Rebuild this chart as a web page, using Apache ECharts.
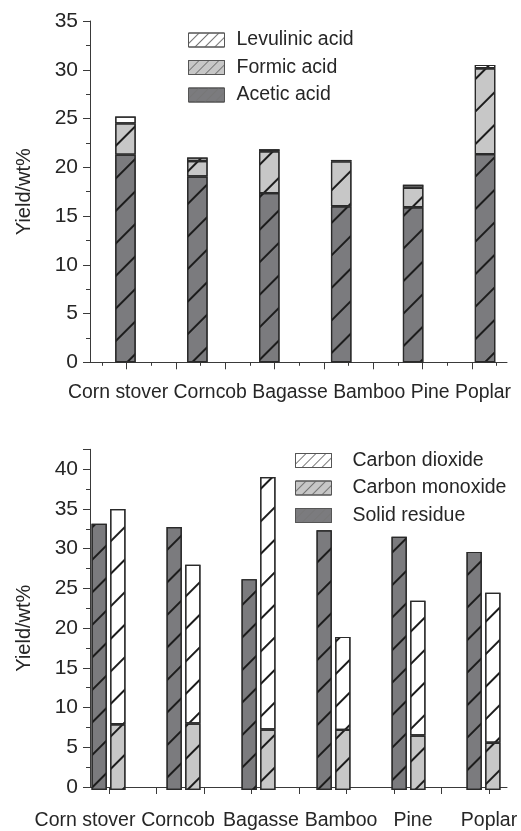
<!DOCTYPE html>
<html>
<head>
<meta charset="utf-8">
<script src="https://cdn.jsdelivr.net/npm/echarts@6/dist/echarts.min.js"></script>
<style>
html,body{margin:0;padding:0;background:#fff;}
#chart{width:521px;height:831px;}
</style>
</head>
<body>
<div id="chart"></div>
<script>
// ---- data ----
const categories = ['Corn stover', 'Corncob', 'Bagasse', 'Bamboo', 'Pine', 'Poplar'];
// top panel (wt%)
const aceticAcid = [21.3, 19.05, 17.35, 16.0, 15.9, 21.35];
const formicAcid = [3.2, 1.6, 4.3, 4.6, 2.0, 8.8];
const levulinicAcid = [0.7, 0.35, 0.2, 0.15, 0.3, 0.35];
// bottom panel (wt%)
const solidResidue = [33.2, 32.8, 26.3, 32.4, 31.6, 29.7];
const carbonMonoxide = [8.2, 8.3, 7.55, 7.5, 6.8, 5.9];
const carbonDioxide = [26.85, 19.8, 31.5, 11.6, 16.8, 18.7];
// axis ticks (x ticks in category-index units)
const topYTicks = { min: 0, max: 35, step: 5 };
const bottomYTicks = { min: 0, max: 42.5, step: 5 };
const topMajorXTicks = [0, 2/3, 4/3, 2, 8/3, 10/3, 4, 14/3];
const topMinorXTicks = [-1/3, 1/3, 1, 5/3, 7/3, 3, 11/3, 13/3, 5];
const bottomXTicks = [0, 0.625, 1.25, 1.875, 2.5, 3.125, 3.75, 4.375, 5];
const bottomLabelValues = [0, 1, 2, 3, 4, 5];

// ---- styles ----
const FONT = 'Liberation Sans, Arial, sans-serif';
const TXT = '#262626';
const AX = '#3a3a3a';
const DARK = '#7b7b7e';
const LIGHT = '#c7c7c7';
const WHITE = '#ffffff';
const hatch = { symbol: 'rect', symbolSize: 1, dashArrayX: [1, 0], dashArrayY: [1.5, 21], rotation: -Math.PI / 4, color: '#1c1c1c' };
const legendHatch = { symbol: 'rect', symbolSize: 1, dashArrayX: [1, 0], dashArrayY: [1, 5.5], rotation: -Math.PI / 4, color: '#777' };
// per-label nudges for the bottom axis labels (padding: [top, right, bottom, left])
const bottomLabelPad = [[0, 48, 0, 0], [0, 14, 0, 0], [0, 0, 0, 0], [0, 0, 0, 8], [0, 0, 0, 0], [0, 0, 0, 0]];

const TOP = { top: 21, height: 341.3 };
const BOT = { top: 449.3, height: 340.7 };

const chart = echarts.init(document.getElementById('chart'), null, { renderer: 'canvas' });

function barSeries(name, data, color, xi, yi, stack, width) {
  return {
    type: 'bar', name, data, xAxisIndex: xi, yAxisIndex: yi, stack,
    barWidth: width, barGap: '22%',
    itemStyle: { color, borderColor: '#2a2a2a', borderWidth: 1.2, decal: hatch },
    emphasis: { disabled: true }, animation: false
  };
}

const yAxisVisible = (gi, t, gapFix) => ({
  gridIndex: gi, type: 'value', min: t.min, max: t.max, interval: t.step,
  axisLine: { show: true, onZero: false, lineStyle: { color: AX, width: 1 } },
  axisTick: { show: true, length: 7, lineStyle: { color: AX } },
  minorTick: { show: true, splitNumber: 2, length: 4, lineStyle: { color: AX } },
  splitLine: { show: false },
  axisLabel: { fontSize: 21, color: TXT, fontFamily: FONT, margin: 12, showMaxLabel: t.max % t.step === 0 },
  name: 'Yield/wt%', nameLocation: 'middle', nameGap: 56,
  nameTextStyle: { fontSize: 20, color: TXT, fontFamily: FONT, padding: gapFix }
});
const yAxisHidden = (gi, t) => ({ gridIndex: gi, type: 'value', min: t.min, max: t.max, show: false, splitLine: { show: false } });

const richLabels = {};
bottomLabelPad.forEach((p, i) => { richLabels['c' + i] = { fontSize: 19.5, color: TXT, fontFamily: FONT, padding: p }; });

const option = {
  backgroundColor: '#fff',
  animation: false,
  textStyle: { fontFamily: FONT },
  grid: [
    { left: 90, width: 417, ...TOP },
    { left: 89.5, width: 444, ...TOP },
    { left: 90, width: 417, ...BOT },
    { left: 71, width: 456, ...BOT }
  ],
  xAxis: [
    { gridIndex: 0, type: 'value', min: -36.5 / 74, max: 380.5 / 74,
      axisLine: { show: true, onZero: false, lineStyle: { color: AX } },
      axisTick: { show: true, length: 7, customValues: topMajorXTicks, lineStyle: { color: AX } },
      axisLabel: { show: false }, splitLine: { show: false },
      name: categories.join(' '), nameLocation: 'middle', nameGap: 21,
      nameTextStyle: { fontSize: 19.4, color: TXT, fontFamily: FONT, padding: [0, 18, 0, 0] } },
    { gridIndex: 0, type: 'value', min: -36.5 / 74, max: 380.5 / 74, position: 'bottom',
      axisLine: { show: false, onZero: false },
      axisTick: { show: true, length: 3.5, customValues: topMinorXTicks, lineStyle: { color: AX } },
      axisLabel: { show: false }, splitLine: { show: false } },
    { gridIndex: 1, type: 'category', data: categories, show: false },
    { gridIndex: 2, type: 'value', min: -19 / 76, max: 398 / 76,
      axisLine: { show: true, onZero: false, lineStyle: { color: AX } },
      axisTick: { show: true, length: 7, customValues: bottomXTicks, lineStyle: { color: AX } },
      axisLabel: {
        show: true, customValues: bottomLabelValues, margin: 24, fontSize: 19.5, color: TXT, fontFamily: FONT,
        formatter: v => {
          const i = Math.round(v);
          return '{c' + i + '|' + categories[i] + '}';
        },
        rich: richLabels
      },
      splitLine: { show: false } },
    { gridIndex: 3, type: 'category', data: categories, show: false }
  ],
  yAxis: [
    yAxisVisible(0, topYTicks, [0, 0, 0, 0]),
    yAxisHidden(1, topYTicks),
    yAxisVisible(2, bottomYTicks, [0, 20, 0, 0]),
    yAxisHidden(3, bottomYTicks)
  ],
  legend: [
    { orient: 'vertical', left: 183, top: 25, itemWidth: 36, itemHeight: 14, itemGap: 7.5,
      selectedMode: false, icon: 'rect',
      itemStyle: { borderColor: '#555', borderWidth: 1 },
      textStyle: { fontSize: 19.5, color: TXT, fontFamily: FONT, padding: [0, 0, 0, 7] },
      data: [
        { name: 'Levulinic acid', itemStyle: { decal: legendHatch } },
        { name: 'Formic acid', itemStyle: { decal: legendHatch } },
        { name: 'Acetic acid', itemStyle: { decal: legendHatch } }
      ] },
    { orient: 'vertical', left: 290, top: 445.5, itemWidth: 36, itemHeight: 14, itemGap: 7.5,
      selectedMode: false, icon: 'rect',
      itemStyle: { borderColor: '#555', borderWidth: 1 },
      textStyle: { fontSize: 19.5, color: TXT, fontFamily: FONT, padding: [0, 0, 0, 16] },
      data: [
        { name: 'Carbon dioxide', itemStyle: { decal: legendHatch } },
        { name: 'Carbon monoxide', itemStyle: { decal: legendHatch } },
        { name: 'Solid residue', itemStyle: { decal: legendHatch } }
      ] }
  ],
  series: [
    barSeries('Acetic acid', aceticAcid, DARK, 2, 1, 'acid', 20.5),
    barSeries('Formic acid', formicAcid, LIGHT, 2, 1, 'acid', 20.5),
    barSeries('Levulinic acid', levulinicAcid, WHITE, 2, 1, 'acid', 20.5),
    barSeries('Solid residue', solidResidue, DARK, 4, 3, 'solid', 15.3),
    barSeries('Carbon monoxide', carbonMonoxide, LIGHT, 4, 3, 'gas', 15.3),
    barSeries('Carbon dioxide', carbonDioxide, WHITE, 4, 3, 'gas', 15.3)
  ]
};
chart.setOption(option);
</script>
</body>
</html>
